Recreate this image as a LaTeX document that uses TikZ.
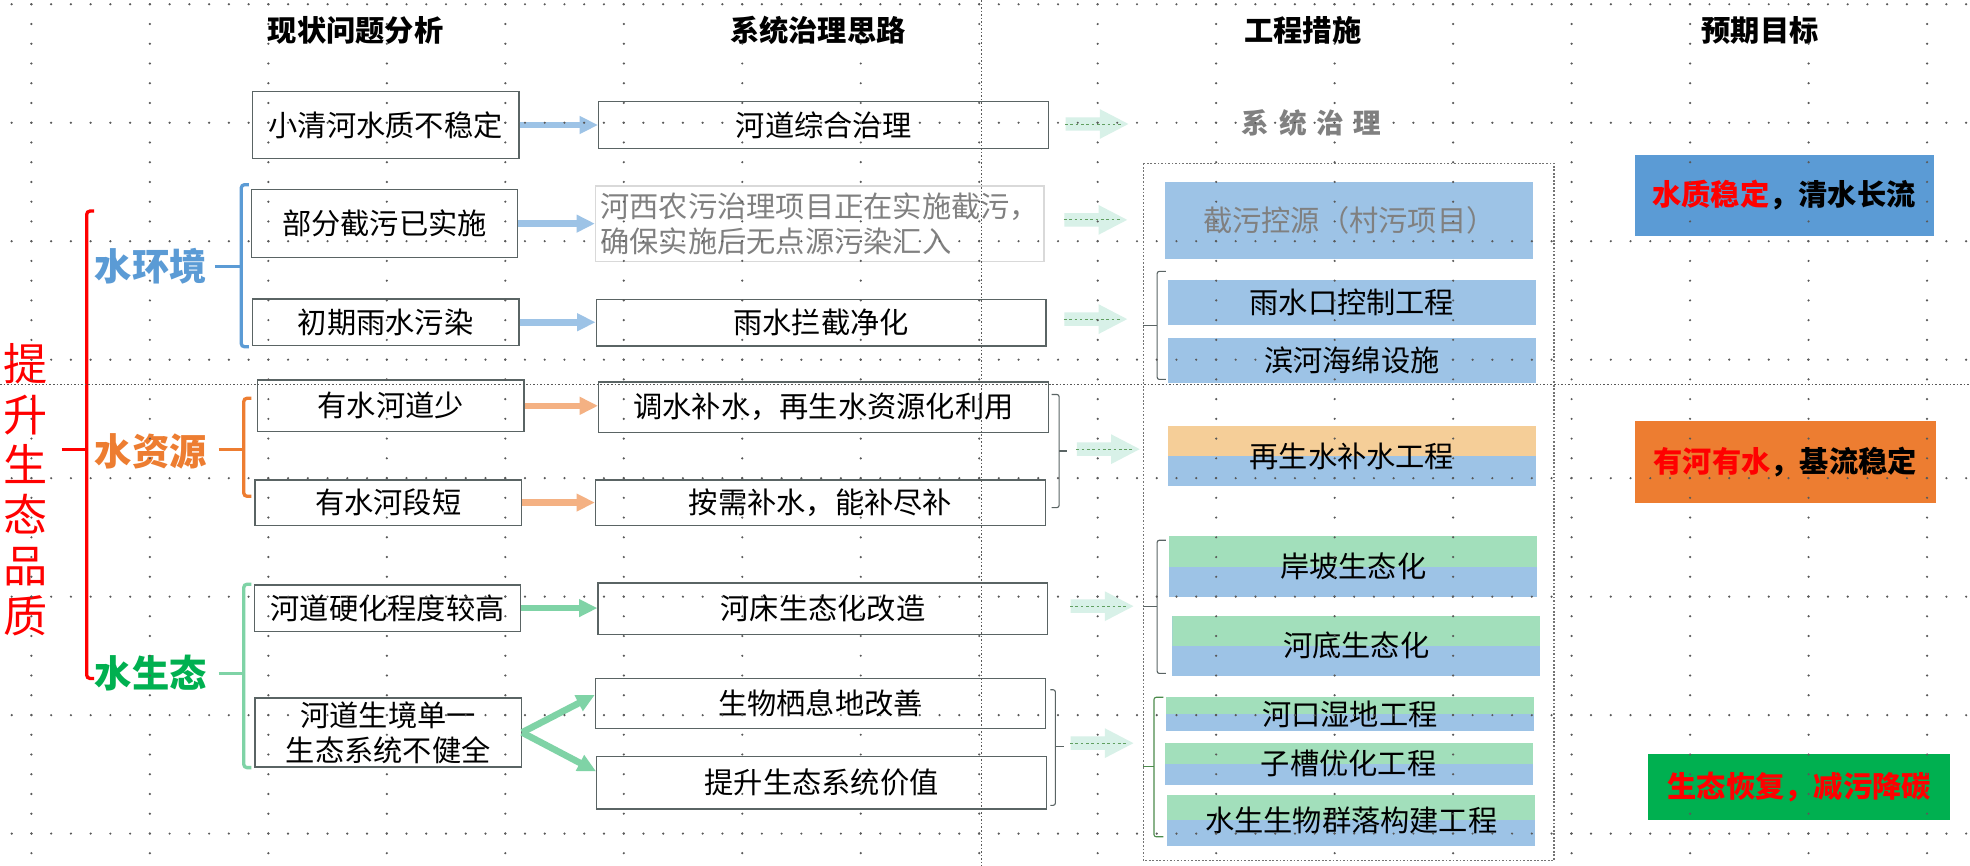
\documentclass[tikz,border=0pt]{standalone}
\usepackage{fontspec}
\setmainfont{Noto Sans CJK SC}
\usetikzlibrary{arrows.meta, shapes.arrows, positioning}
\definecolor{cBlue}{HTML}{5B9BD5}
\definecolor{cOrange}{HTML}{ED7D31}
\definecolor{cGreen}{HTML}{00B050}
\definecolor{cRed}{HTML}{FF0000}
\definecolor{aBlue}{HTML}{9DC3E6}
\definecolor{aOrange}{HTML}{F4B183}
\definecolor{aGreen}{HTML}{7FD3A6}
\definecolor{pMint}{HTML}{D8F1E8}
\definecolor{tOrange}{HTML}{F5CE98}
\definecolor{tGreen}{HTML}{A2DFBB}
\definecolor{bGray}{HTML}{5A6464}

\begin{document}
\begin{tikzpicture}[
    x=0.02cm, y=-0.02cm,
    txt/.style={font=\fontsize{13.25pt}{16pt}\selectfont, inner sep=0pt, align=center},
    colhead/.style={txt, font=\fontsize{13.25pt}{16pt}\selectfont\bfseries},
    cat/.style={txt, font=\fontsize{16.9pt}{20pt}\selectfont\bfseries},
    prob/.style={txt, draw=bGray, line width=0.6pt, minimum width=4.24cm},
    idea/.style={prob, minimum width=7.16cm},
    work/.style={txt, fill=aBlue, minimum width=5.86cm},
    duo/.style={work, path picture={\fill[#1] (path picture bounding box.north west) rectangle (path picture bounding box.east);}},
    aim/.style={txt, font=\fontsize{13.25pt}{16pt}\selectfont\bfseries, minimum height=1.3cm},
    link/.style={-{Triangle[width=7.6pt, length=8.3pt]}, line width=3pt},
    pale/.style={single arrow, fill=pMint, inner sep=0pt, inner ysep=0.1cm, minimum height=1cm,
        single arrow head extend=0.13cm, single arrow tip angle=55},
    paleline/.style={draw=green!25!gray, line width=0.4pt, dash pattern=on 1.2pt off 1.2pt},
    brk/.style={line width=1.5pt, rounded corners=1.5pt},
    fine/.style={draw=bGray, line width=0.5pt, rounded corners=1pt},
    gdot/.style={black!65, line width=1.1pt, line cap=round, dash pattern=on 0pt off 0.31433cm},
    guide/.style={black!65, line width=0.6pt, dash pattern=on 0.7pt off 0.9pt}
]
\fill[white] (0,0) rectangle (1568,689);
\useasboundingbox (0,0) rectangle (1568,689);

% column heads
\node[colhead] (h1) at (283,24) {现状问题分析};
\node[colhead] (h2) at (651,24) {系统治理思路};
\node[colhead] (h3) at (1037,24) {工程措施};
\node[colhead] (h4) at (1401,24) {预期目标};

% left tree
\node[txt, text=cRed, font=\fontsize{20pt}{22.8pt}\selectfont] (top) at (20.5,390) {提\\升\\生\\态\\品\\质};
\node[cat, text=cBlue] (env) at (120,212) {水环境};
\node[cat, text=cOrange] (res) at (120,359) {水资源};
\node[cat, text=cGreen] (eco) at (120,536) {水生态};

\draw[brk, cRed] (75,168) -- (69,168) -- (69,540) -- (75,540);
\draw[brk, cRed] (49,358) -- (69,358);
\draw[brk, cBlue] (198,147) -- (192,147) -- (192,276) -- (198,276);
\draw[brk, cBlue] (171,212) -- (192,212);
\draw[brk, cOrange] (200,317) -- (194,317) -- (194,395) -- (200,395);
\draw[brk, cOrange] (174,358) -- (194,358);
\draw[brk, aGreen] (200,465) -- (194,465) -- (194,611) -- (200,611);
\draw[brk, aGreen] (174,536) -- (194,536);

% problems
\node[prob, minimum height=1.06cm] (c1a) at (307,99.5) {小清河水质不稳定};
\node[prob, minimum height=1.08cm] (c1b) at (306,178) {部分截污已实施};
\node[prob, minimum height=0.74cm] (c1c) at (307,256.5) {初期雨水污染};
\node[prob, minimum height=0.82cm] (c1d) at (311,323) {有水河道少};
\node[prob, minimum height=0.72cm] (c1e) at (309,400) {有水河段短};
\node[prob, minimum height=0.74cm] (c1f) at (308.5,484) {河道硬化程度较高};
\node[prob, minimum height=1.10cm] (c1g) at (309,583) {河道生境单一\\生态系统不健全};

% ideas
\node[idea, minimum height=0.74cm] (c2a) at (655.5,99.5) {河道综合治理};
\node[idea, draw=black!15, text=black!50, minimum width=7.14cm, minimum height=1.2cm, align=left] (c2b) at (652.5,178) {河西农污治理项目正在实施截污，\\确保实施后无点源污染汇入};
\node[idea, minimum height=0.74cm] (c2c) at (653.5,257) {雨水拦截净化};
\node[idea, minimum height=0.80cm] (c2d) at (655.5,324) {调水补水，再生水资源化利用};
\node[idea, minimum height=0.72cm] (c2e) at (653,400) {按需补水，能补尽补};
\node[idea, minimum height=0.82cm] (c2f) at (655,484.5) {河床生态化改造};
\node[idea, minimum height=0.80cm] (c2g) at (653,560) {生物栖息地改善};
\node[idea, minimum height=0.84cm] (c2h) at (654,623) {提升生态系统价值};

% problem -> idea
\draw[link, aBlue] (c1a.east) -- (c1a.east -| c2a.west);
\draw[link, aBlue] (c1b.east) -- (c1b.east -| c2b.west);
\draw[link, aBlue] (c1c.east) -- (c1c.east -| c2c.west);
\draw[link, aOrange] (c1d.east) -- (c1d.east -| c2d.west);
\draw[link, aOrange] (c1e.east) -- (c1e.east -| c2e.west);
\draw[link, aGreen] (c1f.east) -- (c1f.east -| c2f.west);
\draw[link, aGreen] (c1g.east) -- ([yshift=0.14cm]c2g.west);
\draw[link, aGreen] (c1g.east) -- ([yshift=0.18cm]c2h.west);

\draw[fine] (837,314) -- (843,314) -- (843,404) -- (837,404);
\draw[fine] (843,359) -- (849,359);
\draw[fine] (836,549) -- (840,549) -- (840,641) -- (836,641);
\draw[fine] (840,594) -- (847,594);

% idea -> works
\node[pale] (pa1) at (868,98.7) {};
\node[pale] (pa2) at (867,175) {};
\node[pale] (pa3) at (867,254) {};
\node[pale] (pa4) at (877,357.5) {};
\node[pale] (pa5) at (872,482.5) {};
\node[pale] (pa6) at (872,591.5) {};
\foreach \p in {pa1,pa2,pa3,pa4,pa5,pa6}
    \draw[paleline] (\p.tail) -- ([xshift=-3pt]\p.tip);

% works
\node[colhead, text=black!50, font=\fontsize{12.5pt}{15pt}\selectfont\bfseries] (sys) at (1044,98) {系\hspace{4.4pt}统\hspace{4.4pt}治\hspace{4.4pt}理};
\draw[black!55, line width=0.7pt, dash pattern=on 0.8pt off 0.8pt] (910,130) rectangle (1237,685);
\node[work, text=black!50, minimum height=1.22cm] (e1) at (1074,175.5) {截污控源（村污项目）};
\node[work, minimum height=0.72cm] (e2) at (1076,241) {雨水口控制工程};
\node[work, minimum height=0.72cm] (e3) at (1076,287) {滨河海绵设施};
\node[duo=tOrange, minimum height=0.96cm] (e4) at (1076,363) {再生水补水工程};
\node[duo=tGreen, minimum height=0.96cm] (e5) at (1077,451) {岸坡生态化};
\node[duo=tGreen, minimum height=0.96cm] (e6) at (1079.5,514) {河底生态化};
\node[duo=tGreen, minimum height=0.54cm] (e7) at (1074.5,568.5) {河口湿地工程};
\node[duo=tGreen, minimum height=0.68cm] (e8) at (1073.5,608) {子槽优化工程};
\node[duo=tGreen, minimum height=0.80cm] (e9) at (1075.5,653) {水生生物群落构建工程};

\draw[fine] (928,216) -- (921,216) -- (921,302) -- (928,302);
\draw[fine] (910,259) -- (921,259);
\draw[fine] (928,430) -- (921,430) -- (921,536) -- (928,536);
\draw[fine] (910,483) -- (921,483);
\draw[fine, draw=green!35!black!70] (926,555) -- (918.5,555) -- (918.5,666) -- (926,666);
\draw[fine, draw=green!35!black!70] (910,610) -- (918.5,610);

% aims
\node[aim, fill=cBlue, minimum width=4.76cm] (g1) at (1420,155.5) {\textcolor{cRed}{水质稳定}，清水长流};
\node[aim, fill=cOrange, minimum width=4.80cm] (g2) at (1421,367.5) {\textcolor{cRed}{有河有水}，基流稳定};
\node[aim, fill=cGreen, text=cRed, minimum width=4.80cm, minimum height=1.06cm] (g3) at (1432,626.5) {生态恢复，减污降碳};

% grid and guides
\draw[guide] (0,306) -- (1568,306);
\draw[guide] (781,0) -- (781,689);
\foreach \k in {0,...,16}
    \draw[gdot] (25+94.3*\k,3.4) -- (25+94.3*\k,689);
\foreach \j in {0,...,7}
    \draw[gdot] (9.3,3.4+94.3*\j) -- (1568,3.4+94.3*\j);

\end{tikzpicture}
\end{document}
